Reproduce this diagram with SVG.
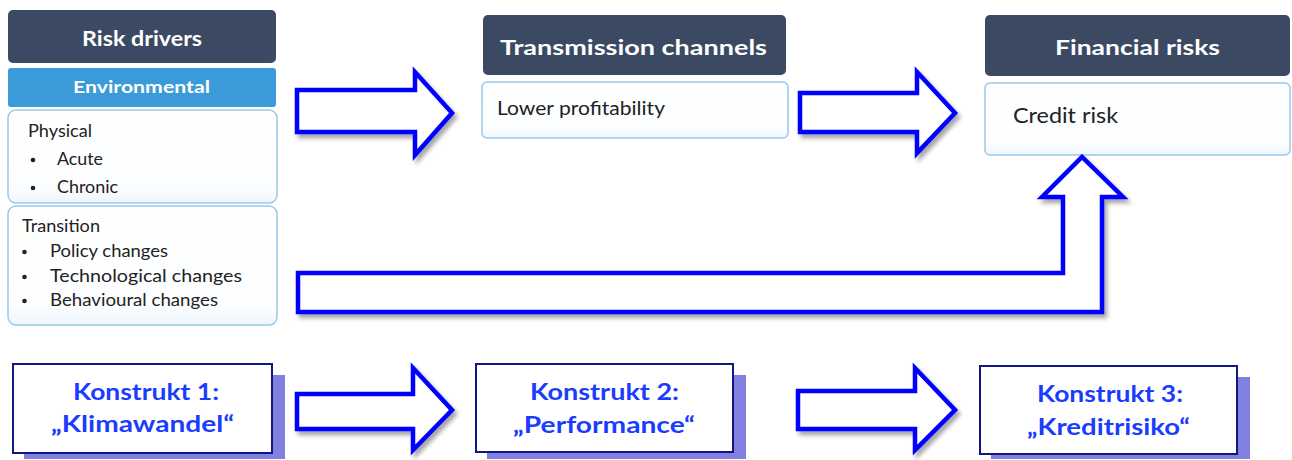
<svg xmlns="http://www.w3.org/2000/svg" width="1292" height="460" viewBox="0 0 1292 460">
  <defs>
    <filter id="shadow" x="-10%" y="-10%" width="130%" height="130%">
      <feDropShadow dx="3" dy="4" stdDeviation="2" flood-color="#000" flood-opacity="0.35"/>
    </filter>
    <linearGradient id="cardFill" x1="0" y1="0" x2="0" y2="1">
      <stop offset="0" stop-color="#ffffff"/>
      <stop offset="0.85" stop-color="#fbfdff"/>
      <stop offset="1" stop-color="#eef6fc"/>
    </linearGradient>
    <style>
      .hdr { fill: #3b4963; }
      .env { fill: #3b9ad8; }
      .card { fill: url(#cardFill); stroke: #9cc9e8; stroke-width: 1.5; }
      .hdr-t { font-family: Lato, "Open Sans", sans-serif; font-weight: bold; fill: #ffffff; }
      .body-t { font-family: Lato, "Open Sans", sans-serif; fill: #222222; }
      .bullet { fill: #222222; }
      .arrow { fill: #ffffff; stroke: #0000ff; stroke-width: 4.5; stroke-linejoin: miter; filter: url(#shadow); }
      .kbox { fill: #ffffff; stroke: #151580; stroke-width: 2; }
      .kshadow { fill: #8080e0; }
      .k-t { font-family: Lato, "Open Sans", sans-serif; font-weight: bold; fill: #1a3cff; font-size: 22px; }
    </style>
  </defs>
  <rect width="1292" height="460" fill="#ffffff"/>

  <!-- Risk drivers column -->
  <g id="risk-drivers">
    <rect class="hdr" x="8" y="10" width="268" height="53" rx="5"/>
    <text class="hdr-t" x="82" y="46" font-size="20" textLength="120" lengthAdjust="spacingAndGlyphs">Risk drivers</text>
  </g>
  <g id="environmental">
    <rect class="env" x="8" y="68" width="268" height="39" rx="3"/>
    <text class="hdr-t" x="73" y="93" font-size="17" textLength="137" lengthAdjust="spacingAndGlyphs">Environmental</text>
  </g>
  <g id="physical">
    <rect class="card" x="8" y="110" width="269" height="93" rx="8"/>
    <text class="body-t" x="28" y="137" font-size="17" textLength="64" lengthAdjust="spacingAndGlyphs">Physical</text>
    <circle class="bullet" cx="33" cy="160" r="2.3"/>
    <text class="body-t" x="57" y="165" font-size="17" textLength="46" lengthAdjust="spacingAndGlyphs">Acute</text>
    <circle class="bullet" cx="33" cy="188" r="2.3"/>
    <text class="body-t" x="57" y="193" font-size="17" textLength="61" lengthAdjust="spacingAndGlyphs">Chronic</text>
  </g>
  <g id="transition">
    <rect class="card" x="8" y="206" width="269" height="119" rx="8"/>
    <text class="body-t" x="22" y="232" font-size="17" textLength="78" lengthAdjust="spacingAndGlyphs">Transition</text>
    <circle class="bullet" cx="24.5" cy="252" r="2.3"/>
    <text class="body-t" x="50" y="257" font-size="17" textLength="118" lengthAdjust="spacingAndGlyphs">Policy changes</text>
    <circle class="bullet" cx="24.5" cy="277" r="2.3"/>
    <text class="body-t" x="50" y="282" font-size="17" textLength="192" lengthAdjust="spacingAndGlyphs">Technological changes</text>
    <circle class="bullet" cx="24.5" cy="301" r="2.3"/>
    <text class="body-t" x="50" y="306" font-size="17" textLength="168" lengthAdjust="spacingAndGlyphs">Behavioural changes</text>
  </g>

  <!-- Transmission channels column -->
  <g id="transmission-channels">
    <rect class="hdr" x="483" y="15" width="303" height="60" rx="5"/>
    <text class="hdr-t" x="500" y="55" font-size="21" textLength="267" lengthAdjust="spacingAndGlyphs">Transmission channels</text>
  </g>
  <g id="lower-profitability">
    <rect class="card" x="482" y="82" width="306" height="56" rx="5"/>
    <text class="body-t" x="497" y="115" font-size="19.5" textLength="168" lengthAdjust="spacingAndGlyphs">Lower profitability</text>
  </g>

  <!-- Financial risks column -->
  <g id="financial-risks">
    <rect class="hdr" x="985" y="15" width="305" height="61" rx="5"/>
    <text class="hdr-t" x="1055" y="55" font-size="21" textLength="165" lengthAdjust="spacingAndGlyphs">Financial risks</text>
  </g>
  <g id="credit-risk">
    <rect class="card" x="985" y="83" width="305" height="72" rx="5"/>
    <text class="body-t" x="1013" y="123" font-size="21" textLength="105" lengthAdjust="spacingAndGlyphs">Credit risk</text>
  </g>

  <!-- Construct boxes -->
  <g id="konstrukt-1">
    <rect class="kshadow" x="24" y="375" width="261" height="84"/>
    <rect class="kbox" x="13" y="364" width="259" height="89"/>
    <text class="k-t" x="73" y="400" textLength="146" lengthAdjust="spacingAndGlyphs">Konstrukt 1:</text>
    <text class="k-t" x="51" y="432" textLength="183" lengthAdjust="spacingAndGlyphs">„Klimawandel“</text>
  </g>
  <g id="konstrukt-2">
    <rect class="kshadow" x="487" y="375" width="259" height="84"/>
    <rect class="kbox" x="476" y="364" width="257" height="88"/>
    <text class="k-t" x="530" y="400" textLength="149" lengthAdjust="spacingAndGlyphs">Konstrukt 2:</text>
    <text class="k-t" x="513" y="433" textLength="182" lengthAdjust="spacingAndGlyphs">„Performance“</text>
  </g>
  <g id="konstrukt-3">
    <rect class="kshadow" x="991" y="377" width="259" height="82"/>
    <rect class="kbox" x="980" y="366" width="257" height="88"/>
    <text class="k-t" x="1037" y="402" textLength="146" lengthAdjust="spacingAndGlyphs">Konstrukt 3:</text>
    <text class="k-t" x="1027" y="435" textLength="163" lengthAdjust="spacingAndGlyphs">„Kreditrisiko“</text>
  </g>

  <!-- Block arrows -->
  <g id="connectors">
    <polygon class="arrow" points="297,90 415,90 415,72 452,113 415,155 415,132 297,132"/>
    <polygon class="arrow" points="800,93 917,93 917,72 955,113 917,153 917,132 800,132"/>
    <polygon class="arrow" points="298,273 1063,273 1063,197 1042,197 1082,157 1123,197 1102,197 1102,312 298,312"/>
    <polygon class="arrow" points="297,394 413,394 413,368 452,410 413,450 413,429 297,429"/>
    <polygon class="arrow" points="798,391 915,391 915,368 955,410 915,450 915,429 798,429"/>
  </g>
</svg>
